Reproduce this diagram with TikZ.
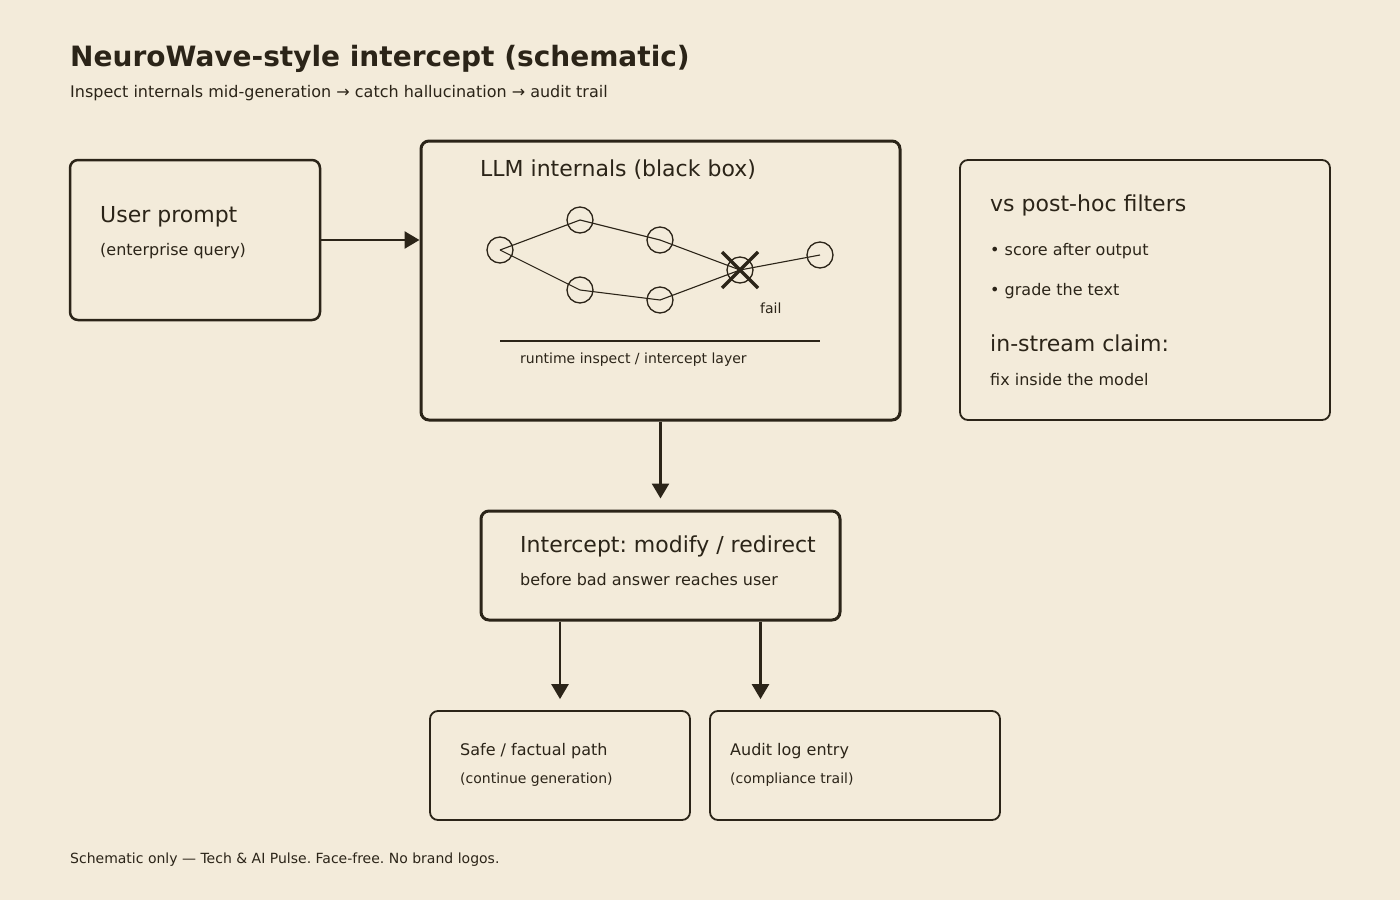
\documentclass[tikz,border=0pt]{standalone}
\usepackage{fontspec}
\setmainfont{DejaVu Sans}
\usepackage{tikz}
\usetikzlibrary{positioning,arrows.meta,calc}
\definecolor{paper}{HTML}{F3EBDA}
\definecolor{ink}{HTML}{2B2418}
\newcommand{\fs}[1]{\fontsize{#1}{#1}\selectfont}
\frenchspacing
\tikzset{
  panel/.style={draw=ink,rounded corners=8pt,line width=2.5pt,inner sep=0pt},
  thinpanel/.style={panel,line width=1.8pt},
  neuron/.style={circle,draw=ink,line width=1.3pt,minimum size=26pt,inner sep=0pt},
  link/.style={ink,line width=1.1pt},
  flow/.style={ink,line width=2.6pt,-{Triangle[length=15pt,width=17pt]}},
  txt/.style={anchor=base west,inner sep=0pt,text=ink}
}
\begin{document}
\begin{tikzpicture}[x=1pt,y=-1pt]
  \fill[paper] (0,0) rectangle (1400,900);
  \useasboundingbox (0,0) rectangle (1400,900);
  % heading
  \node[txt] (title) at (70,66) {\fs{28}\bfseries NeuroWave-style intercept (schematic)};
  \node[txt] (sub) at (70,97) {\fs{16}Inspect internals mid-generation → catch hallucination → audit trail};
  % boxes
  \node[panel,minimum width=250pt,minimum height=160pt] (prompt) at (195,240) {};
  \node[panel,line width=3pt,minimum width=479pt,minimum height=279pt] (llm) at (660.5,280.5) {};
  \node[thinpanel,minimum width=370pt,minimum height=260pt] (posthoc) at (1145,290) {};
  \node[panel,line width=3pt,minimum width=359pt,minimum height=109pt] (icpt) at (660.5,565.5) {};
  \node[thinpanel,minimum width=260pt,minimum height=109pt] (safe) at (560,765.5) {};
  \node[thinpanel,minimum width=290pt,minimum height=109pt] (audit) at (855,765.5) {};
  % box texts
  \node[txt] (promptT) at (100,222) {\fs{22}User prompt};
  \node[txt] (promptS) at (100,255) {\fs{16}(enterprise query)};
  \node[txt] (llmT) at (480,176) {\fs{22}LLM internals (black box)};
  \node[txt] (phT) at (990,211) {\fs{22}vs post-hoc filters};
  \node[txt] (phA) at (990,255) {\fs{16}• score after output};
  \node[txt] (phB) at (990,295) {\fs{16}• grade the text};
  \node[txt] (phC) at (990,351) {\fs{22}in-stream claim:};
  \node[txt] (phD) at (990,385) {\fs{16}fix inside the model};
  \node[txt] (icptT) at (520,552) {\fs{22}Intercept: modify / redirect};
  \node[txt] (icptS) at (520,585) {\fs{16}before bad answer reaches user};
  \node[txt] (safeT) at (460,755) {\fs{16}Safe / factual path};
  \node[txt] (safeS) at (460,783) {\fs{14}(continue generation)};
  \node[txt] (auditT) at (730,755) {\fs{16}Audit log entry};
  \node[txt] (auditS) at (730,783) {\fs{14}(compliance trail)};
  % network inside the black box
  \foreach \n/\x/\y in {n1/500/250,n2/580/220,n3/660/240,n4/740/270,n5/820/255,n6/580/290,n7/660/300}
    \node[neuron] (\n) at (\x,\y) {};
  \foreach \a/\b in {n1/n2,n2/n3,n3/n4,n1/n6,n6/n7,n7/n4,n4/n5}
    \draw[link] (\a.center) -- (\b.center);
  \draw[ink,line width=3.5pt] ($(n4)+(-18,-18)$) -- ($(n4)+(18,18)$);
  \draw[ink,line width=3.5pt] ($(n4)+(-18,18)$) -- ($(n4)+(18,-18)$);
  \node[txt] (fail) at (760,313) {\fs{14}fail};
  \coordinate (layerL) at (500,341);
  \coordinate (layerR) at (820,341);
  \draw[ink,line width=2pt] (layerL) -- (layerR);
  \node[txt] (layerT) at (520,363) {\fs{14}runtime inspect / intercept layer};
  % connectors
  \draw[flow] (prompt.east) -- (prompt.east -| llm.west);
  \draw[flow,shorten >=11pt] (llm.south) -- (icpt.north);
  \draw[flow,shorten >=11pt] (safe.north |- icpt.south) -- (safe.north);
  \draw[flow,shorten >=11pt] ([xshift=100pt]icpt.south) -- ([xshift=100pt]icpt.south |- audit.north);
  % footer
  \node[txt] (foot) at (70,863) {\fs{14}Schematic only — Tech \& AI Pulse. Face-free. No brand logos.};
\end{tikzpicture}
\end{document}
